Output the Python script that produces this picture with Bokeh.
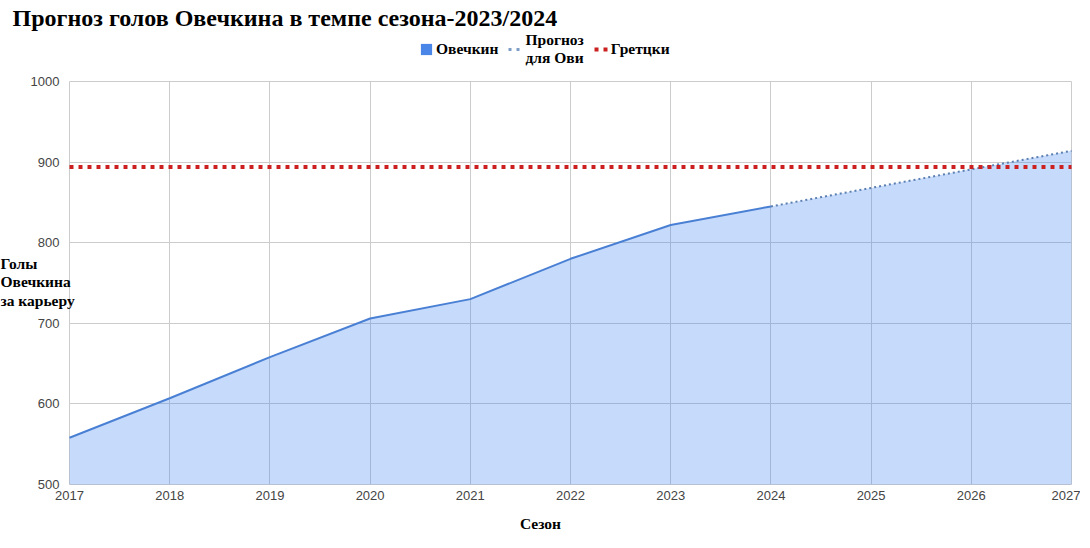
from bokeh.plotting import figure
from bokeh.models import Legend, LegendItem, FixedTicker, Range1d, LinearAxis, Label
from bokeh.embed import file_html
from bokeh.resources import INLINE

years = [2017, 2018, 2019, 2020, 2021, 2022, 2023, 2024]
ovi_goals = [558, 607, 658, 706, 730, 780, 822, 845]
proj_years = [2024, 2025, 2026, 2027]
proj_goals = [845, 868, 891, 914]
gretzky_years = [2017, 2027]
gretzky_goals = [894, 894]
x_ticks = list(range(2017, 2028))
y_ticks = [500, 600, 700, 800, 900, 1000]

W, H = 1080, 540
# data area: 2017 -> px 69, 2027 -> px 1071 ; 500 -> px 484, 1000 -> px 81
xpx = (1071 - 69) / 10.0
ypx = (484 - 81) / 500.0
x0 = 2017 - 69 / xpx
x1 = 2027 + (W - 1071) / xpx
y0 = 500 - (H - 484) / ypx
y1 = 1000 + 81 / ypx

p = figure(width=W, height=H, output_backend="svg", toolbar_location=None,
           x_range=Range1d(x0, x1), y_range=Range1d(y0, y1),
           x_axis_location=None, y_axis_location=None,
           min_border_left=0, min_border_right=0, min_border_top=0, min_border_bottom=0)
p.outline_line_color = None
# off-screen range used only by legend swatches
p.extra_y_ranges = {"legend_only": Range1d(-2000, -1000)}

yax = LinearAxis(fixed_location=2017, ticker=FixedTicker(ticks=y_ticks))
xax = LinearAxis(fixed_location=500, ticker=FixedTicker(ticks=x_ticks))
p.add_layout(yax, "left")
p.add_layout(xax, "below")
for ax in (xax, yax):
    ax.axis_line_color = None
    ax.major_tick_line_color = None
    ax.minor_tick_line_color = None
    ax.major_label_text_font = "Liberation Sans"
    ax.major_label_text_font_size = "13px"
    ax.major_label_text_color = "#444444"
yax.major_label_standoff = 4
xax.major_label_standoff = 0

p.xgrid[0].ticker = FixedTicker(ticks=x_ticks)
p.xgrid[0].cross_bounds = (500, 1000)
p.xgrid[0].grid_line_color = "#cccccc"
p.ygrid[0].ticker = FixedTicker(ticks=y_ticks)
p.ygrid[0].cross_bounds = (2017, 2027)
p.ygrid[0].grid_line_color = "#cccccc"

all_x = years + proj_years[1:]
all_y = ovi_goals + proj_goals[1:]
p.varea(x=all_x, y1=[500] * len(all_x), y2=all_y, fill_color="#4285f4", fill_alpha=0.3)
p.line(years, ovi_goals, line_color="#4a80d4", line_width=2)
p.line(proj_years, proj_goals, line_color="#5a7fb0", line_width=2, line_dash="2 3")
p.line(gretzky_years, gretzky_goals, line_color="#cc1f1f", line_width=4, line_dash="4 5")

# legend swatches (mapped to the off-screen range, so not visible in the plot)
sw_ovi = p.varea(x=years, y1=[500] * len(years), y2=ovi_goals, y_range_name="legend_only",
                 fill_color="#4a86e8")
sw_proj = p.line(proj_years, proj_goals, y_range_name="legend_only",
                 line_color="#7f9dc6", line_width=3, line_dash="3 5")
sw_gr = p.line(gretzky_years, gretzky_goals, y_range_name="legend_only",
               line_color="#cc1f1f", line_width=4, line_dash="4 5")
legend = Legend(items=[LegendItem(label="Овечкин", renderers=[sw_ovi]),
                       LegendItem(label="Прогноз\nдля Ови", renderers=[sw_proj]),
                       LegendItem(label="Гретцки", renderers=[sw_gr])],
                orientation="horizontal", location=(419, H - 67),
                label_text_font="Liberation Serif", label_text_font_style="bold",
                label_text_font_size="15.5px", label_text_line_height=1.0,
                label_text_color="black",
                glyph_width=14, glyph_height=14, spacing=10, label_standoff=3,
                padding=0, margin=0, border_line_color=None, background_fill_alpha=0)
p.add_layout(legend, "center")

def lab(x, y_top, text, size, align="left", lh=1.2):
    p.add_layout(Label(x=x, y=H - y_top, x_units="screen", y_units="screen",
                       text=text, text_font="Liberation Serif", text_font_size=size,
                       text_font_style="bold", text_align=align, text_baseline="top",
                       text_color="black", text_line_height=lh))

lab(12, 4, "Прогноз голов Овечкина в темпе сезона-2023/2024", "24px")
lab(0, 254, "Голы\nОвечкина\nза карьеру", "15.5px", lh=1.1)
lab(540, 514, "Сезон", "15.5px", align="center")

open("out.html", "w").write(file_html(p, INLINE))
